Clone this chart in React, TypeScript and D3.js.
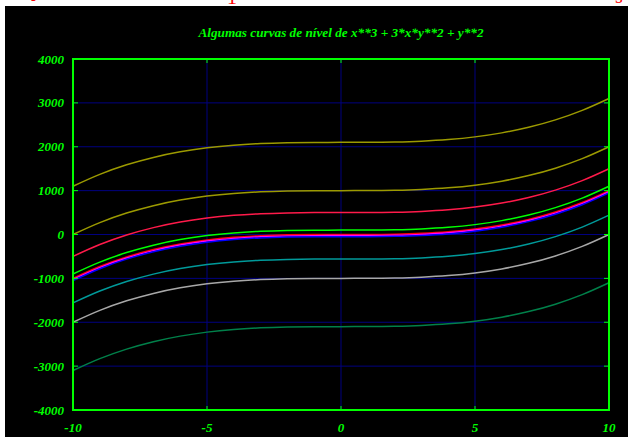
import React from "react"
import * as d3 from "d3"

// level values of the drawn curves (read at x = 0)
const levels = [2100, 1000, 500, 100, 0, -25, -50, -560, -1000, -2100]
const levelColors = ["#9c9a00", "#9c9a00", "#ff1a4a", "#00ff00", "#ff0000", "#ff00ff", "#0000ff", "#009a9a", "#a8a8a8", "#00804a"]

// shared shape of the curves, read at x = -10 .. 10
const xs = [-10, -9, -8, -7, -6, -5, -4, -3, -2, -1, 0, 1, 2, 3, 4, 5, 6, 7, 8, 9, 10]
const shape = [-1000, -729, -512, -343, -216, -125, -64, -27, -8, -1, 0, 1, 8, 27, 64, 125, 216, 343, 512, 729, 1000]

const xTicks = [-10, -5, 0, 5, 10]
const yTicks = [-4000, -3000, -2000, -1000, 0, 1000, 2000, 3000, 4000]

const title = "Algumas curvas de nível de x**3 + 3*x*y**2 + y**2"

const W = 628
const H = 437
const margin = {top: 59, right: 19, bottom: 27, left: 73}
const green = "#00ff00"
const font = "'Liberation Serif', 'Times New Roman', serif"

export default function App() {
    const x = d3.scaleLinear().domain([-10, 10]).range([margin.left, W - margin.right])
    const y = d3.scaleLinear().domain([-4000, 4000]).range([H - margin.bottom, margin.top])

    const line = d3.line<number>()
        .x((d, i) => x(xs[i]))
        .y(d => y(d))
        .curve(d3.curveMonotoneX)

    const x0 = x(-10), x1 = x(10), y0 = y(-4000), y1 = y(4000)

    return (
        <div style={{position: "absolute", left: 0, top: 0}}>
            <svg width={W} height={H} style={{display: "block"}}>
                <rect x={0} y={0} width={W} height={H} fill="#fff" />
                {/* cut off red text above the frame */}
                <g fill="#ff0000" fontFamily={font} fontSize={20}>
                    <text x={31} y={1}>J</text>
                    <text x={227} y={4}>1</text>
                    <text x={615} y={3}>s</text>
                </g>
                <rect x={5} y={6} width={W - 5} height={H - 6} fill="#000" />

                <text x={(x0 + x1) / 2} y={37} textAnchor="middle" fill={green}
                    fontFamily={font} fontSize={12.5} fontWeight="bold" fontStyle="italic"
                    textLength={285} lengthAdjust="spacingAndGlyphs">{title}</text>

                {/* grid */}
                <g stroke="#000080" strokeWidth={1}>
                    {xTicks.slice(1, -1).map(t => (
                        <line key={"gx" + t} x1={x(t)} x2={x(t)} y1={y1} y2={y0} />
                    ))}
                    {yTicks.slice(1, -1).map(t => (
                        <line key={"gy" + t} x1={x0} x2={x1} y1={y(t)} y2={y(t)} />
                    ))}
                </g>

                {/* curves */}
                <g fill="none" strokeWidth={1.5}>
                    {levels.map((c, k) => (
                        <path key={k} d={line(shape.map(v => v + c)) || ""} stroke={levelColors[k]} />
                    ))}
                </g>

                {/* ticks */}
                <g stroke={green} strokeWidth={1}>
                    {xTicks.slice(1, -1).map(t => (
                        <g key={"tx" + t}>
                            <line x1={x(t)} x2={x(t)} y1={y0} y2={y0 - 4} />
                            <line x1={x(t)} x2={x(t)} y1={y1} y2={y1 + 4} />
                        </g>
                    ))}
                    {yTicks.slice(1, -1).map(t => (
                        <g key={"ty" + t}>
                            <line x1={x0} x2={x0 + 5} y1={y(t)} y2={y(t)} />
                            <line x1={x1} x2={x1 - 5} y1={y(t)} y2={y(t)} />
                        </g>
                    ))}
                </g>

                <rect x={x0} y={y1} width={x1 - x0} height={y0 - y1} fill="none" stroke={green} strokeWidth={2} />

                {/* labels */}
                <g fill={green} fontFamily={font} fontSize={13} fontWeight="bold" fontStyle="italic">
                    {yTicks.map(t => (
                        <text key={"ly" + t} x={x0 - 9} y={y(t) + 4.5} textAnchor="end">{t}</text>
                    ))}
                    {xTicks.map(t => (
                        <text key={"lx" + t} x={x(t)} y={432} textAnchor="middle">{t}</text>
                    ))}
                </g>
            </svg>
        </div>
    )
}
